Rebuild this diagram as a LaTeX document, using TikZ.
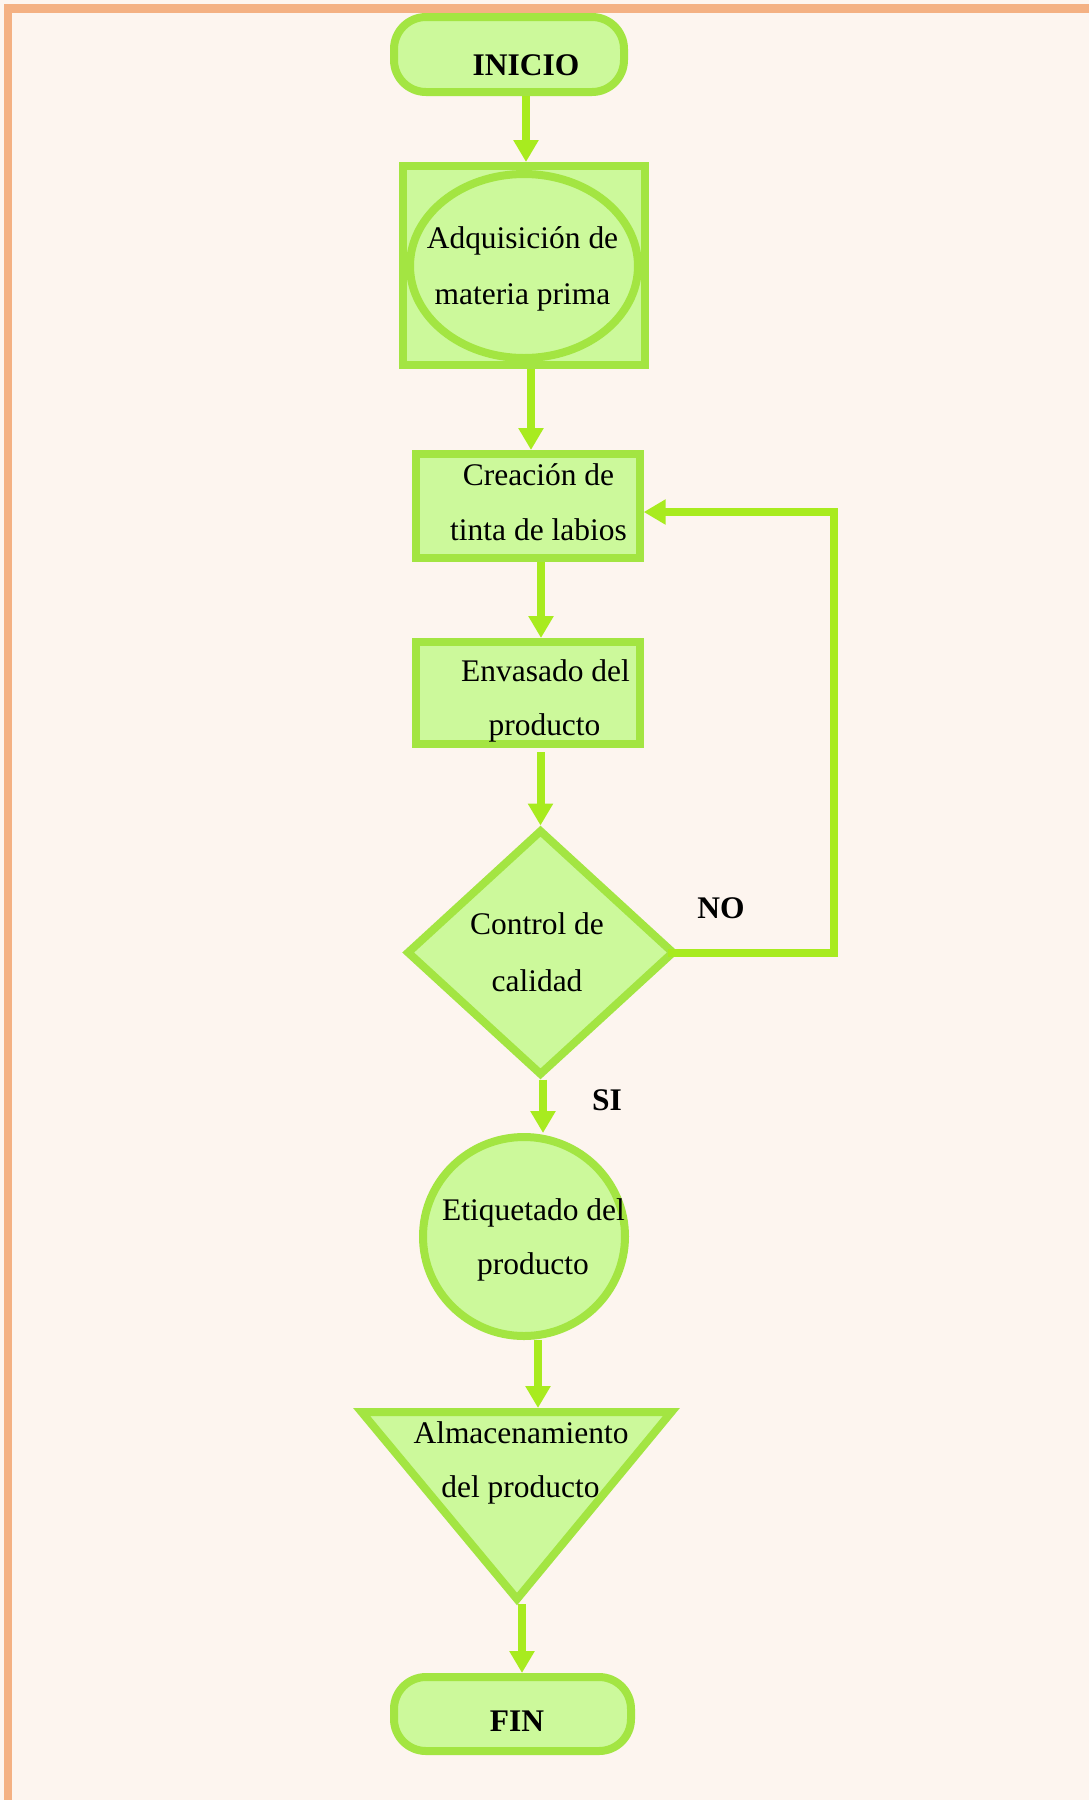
\documentclass[tikz,border=0pt]{standalone}
\usepackage{fontspec}
\setmainfont{Liberation Serif}
\usetikzlibrary{shapes.geometric,arrows.meta}
\definecolor{bgc}{HTML}{FDF5EF}
\definecolor{framec}{HTML}{F4B183}
\definecolor{fillc}{HTML}{CCF99B}
\definecolor{edgec}{HTML}{A3E542}
\definecolor{arrc}{HTML}{A8EB1F}
\begin{document}
\begin{tikzpicture}[x=0.75pt,y=-0.75pt,
  shp/.style={draw=edgec,fill=fillc,line width=6pt,inner sep=0pt},
  arr/.style={draw=arrc,line width=6pt,-{Triangle[width=18pt,length=16.5pt]}},
  txt/.style={font=\fontsize{23.6}{28}\selectfont,anchor=base,inner sep=0pt},
  btxt/.style={font=\fontsize{23.6}{28}\selectfont\bfseries,anchor=base,inner sep=0pt}]
\useasboundingbox (0,0) rectangle (1089,1800);
\fill[bgc] (0,0) rectangle (1089,1800);
\draw[framec,line width=6.375pt] (8,8.5) rectangle (1130,1840);

% shapes
\node[shp,rounded corners=24pt,minimum width=172.5pt,minimum height=56.25pt] (inicio) at (509,54.5) {};
\node[shp,minimum width=181.5pt,minimum height=149.25pt] (box1) at (524,265.5) {};
\node[shp,ellipse,minimum width=171pt,minimum height=138pt] (adq) at (524,266) {};
\node[shp,minimum width=167.55pt,minimum height=77.7pt] (crea) at (528,505.8) {};
\node[shp,minimum width=168pt,minimum height=76.5pt] (env) at (528,693) {};
\node[shp,diamond,minimum width=201pt,minimum height=184.5pt] (ctrl) at (540.5,952.5) {};
\node[shp,ellipse,minimum width=151.5pt,minimum height=149.25pt] (etiq) at (524,1236.5) {};
\draw[shp] (361.6,1412) -- (671.4,1412) -- (517,1599) -- cycle;
\coordinate (almtop) at (517,1408);
\coordinate (almbot) at (517,1604);
\node[shp,rounded corners=24pt,minimum width=177.75pt,minimum height=55.5pt] (fin) at (512.5,1714) {};
\coordinate (noturn) at (834,512);

% connectors
\draw[arr] (inicio.south -| 526,0) -- (box1.north -| 526,0);
\draw[arr] (box1.south -| 531,0) -- (crea.north -| 531,0);
\draw[arr] (crea.south -| 541,0) -- (env.north -| 541,0);
\draw[arr] ([yshift=-3pt]env.south -| ctrl.north) -- (ctrl.north);
\draw[arr] (ctrl.south -| 543,0) -- (etiq.north -| 543,0);
\draw[arr] (etiq.south -| 538,0) -- (almtop -| 538,0);
\draw[arr] (almbot -| 522,0) -- (fin.north -| 522,0);
\draw[arr,line join=miter] ([xshift=-8pt]ctrl.east) -| (noturn) -- (crea.east |- noturn);

% texts
\node[btxt] (t-ini) at (526,75) {INICIO};
\node[txt] (t-adq1) at (522.5,248) {Adquisición de};
\node[txt] (t-adq2) at (522.5,304) {materia prima};
\node[txt] (t-cre1) at (538.5,485.7) {Creación de};
\node[txt] (t-cre2) at (538.5,540.6) {tinta de labios};
\node[txt] (t-env1) at (545.5,681) {Envasado del};
\node[txt] (t-env2) at (544.5,735.7) {producto};
\node[txt] (t-ctl1) at (537,934.8) {Control de};
\node[txt] (t-ctl2) at (537,991.5) {calidad};
\node[btxt] (t-no) at (721,918) {NO};
\node[btxt] (t-si) at (607,1110) {SI};
\node[txt] (t-eti1) at (533.5,1220.5) {Etiquetado del};
\node[txt] (t-eti2) at (533,1274) {producto};
\node[txt] (t-alm1) at (521,1443.8) {Almacenamiento};
\node[txt] (t-alm2) at (520.5,1497) {del producto};
\node[btxt] (t-fin) at (517,1731.7) {FIN};
\end{tikzpicture}
\end{document}
